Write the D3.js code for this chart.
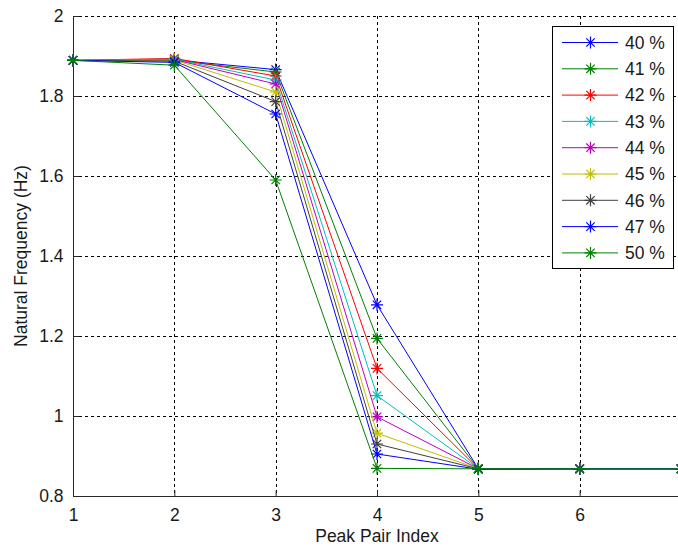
<!DOCTYPE html>
<html>
<head>
<meta charset="utf-8">
<script src="https://cdn.jsdelivr.net/npm/d3@7/dist/d3.min.js"></script>
<style>
  body { margin: 0; background: #fff; }
  svg { display: block; }
  text { font-family: "Liberation Sans", Arial, sans-serif; fill: #1a1a1a; }
</style>
</head>
<body>
<svg id="chart" width="678" height="548"></svg>
<script>
// Peak pair index (x) and natural frequency (Hz) per damping level
const peakIndex = [1, 2, 3, 4, 5, 6, 7];
const seriesLabels = ["40 %", "41 %", "42 %", "43 %", "44 %", "45 %", "46 %", "47 %", "50 %"];
const seriesColors = ["#0000ff", "#008000", "#ff0000", "#00bfbf", "#bf00bf", "#bfbf00", "#404040", "#0000ff", "#008000"];

const freq40 = [1.889, 1.890, 1.866, 1.278, 0.868, 0.868, 0.868];
const freq41 = [1.889, 1.889, 1.860, 1.194, 0.868, 0.868, 0.868];
const freq42 = [1.889, 1.894, 1.850, 1.119, 0.868, 0.868, 0.868];
const freq43 = [1.889, 1.892, 1.840, 1.051, 0.868, 0.868, 0.868];
const freq44 = [1.889, 1.891, 1.830, 0.998, 0.868, 0.868, 0.868];
const freq45 = [1.889, 1.890, 1.810, 0.957, 0.868, 0.868, 0.868];
const freq46 = [1.889, 1.887, 1.786, 0.930, 0.868, 0.868, 0.868];
const freq47 = [1.889, 1.884, 1.755, 0.905, 0.867, 0.868, 0.868];
const freq50 = [1.889, 1.877, 1.590, 0.869, 0.868, 0.868, 0.868];

const xTicks = [1, 2, 3, 4, 5, 6, 7];
const xTickLabels = ["1", "2", "3", "4", "5", "6", ""];
const yTicks = [0.8, 1.0, 1.2, 1.4, 1.6, 1.8, 2.0];
const yTickLabels = ["0.8", "1", "1.2", "1.4", "1.6", "1.8", "2"];

const allSeries = [freq40, freq41, freq42, freq43, freq44, freq45, freq46, freq47, freq50];

const svg = d3.select("#chart");
const plotLeft = 73, plotRight = 681, plotTop = 16, plotBottom = 496;

const x = d3.scaleLinear().domain([1, 7]).range([plotLeft, plotRight]);
const y = d3.scaleLinear().domain([0.8, 2.0]).range([plotBottom, plotTop]);

// dashed grid
const grid = svg.append("g").attr("stroke", "#000").attr("stroke-width", 1)
  .attr("stroke-dasharray", "3,3");
xTicks.forEach(t => {
  grid.append("line").attr("x1", Math.round(x(t)) + 0.5).attr("x2", Math.round(x(t)) + 0.5)
    .attr("y1", plotTop).attr("y2", plotBottom);
});
yTicks.forEach(t => {
  grid.append("line").attr("y1", Math.round(y(t)) + 0.5).attr("y2", Math.round(y(t)) + 0.5)
    .attr("x1", plotLeft).attr("x2", plotRight);
});

// axes (ticks pointing inward)
const xAxis = d3.axisBottom(x).tickValues(xTicks).tickSize(-6).tickPadding(12)
  .tickFormat((d, i) => xTickLabels[i]);
const yAxis = d3.axisLeft(y).tickValues(yTicks).tickSize(-6).tickPadding(10)
  .tickFormat((d, i) => yTickLabels[i]);

const gx = svg.append("g").attr("transform", `translate(0,${Math.round(plotBottom) + 0.5})`).call(xAxis);
const gy = svg.append("g").attr("transform", `translate(${Math.round(plotLeft) + 0.5},0)`).call(yAxis);
[gx, gy].forEach(g => {
  g.select(".domain").attr("stroke", "#262626").attr("stroke-width", 1);
  g.selectAll(".tick line").attr("stroke", "#262626");
  g.selectAll(".tick text").attr("font-size", 17.5).attr("fill", "#1a1a1a")
    .attr("font-family", "'Liberation Sans', Arial, sans-serif");
});
gy.select(".domain").attr("d", `M0,${plotTop}V${plotBottom}`);
gx.select(".domain").attr("d", `M${plotLeft},0H${plotRight}`);

// series lines and asterisk markers
const line = d3.line().x((d, i) => x(peakIndex[i])).y(d => y(d));
const star = "M-6,0H6M0,-6V6M-4.2,-4.2L4.2,4.2M-4.2,4.2L4.2,-4.2";

const plot = svg.append("g");
allSeries.forEach((vals, si) => {
  plot.append("path").datum(vals).attr("d", line)
    .attr("fill", "none").attr("stroke", seriesColors[si]).attr("stroke-width", 1);
  plot.selectAll(null).data(vals).enter().append("path")
    .attr("d", star)
    .attr("transform", (d, i) => `translate(${x(peakIndex[i])},${y(d)})`)
    .attr("stroke", seriesColors[si]).attr("stroke-width", 1.2).attr("fill", "none");
});

// axis labels
svg.append("text").attr("x", (plotLeft + plotRight) / 2).attr("y", 542)
  .attr("text-anchor", "middle").attr("font-size", 17.5).text("Peak Pair Index");
svg.append("text").attr("transform", `translate(27,${(plotTop + plotBottom) / 2}) rotate(-90)`)
  .attr("text-anchor", "middle").attr("font-size", 17.5).text("Natural Frequency (Hz)");

// legend
const lg = svg.append("g");
lg.append("rect").attr("x", 552.5).attr("y", 26.5).attr("width", 121).attr("height", 242)
  .attr("fill", "#fff").attr("stroke", "#000").attr("stroke-width", 1);
seriesLabels.forEach((lab, i) => {
  const cy = 42.5 + i * 26.3;
  lg.append("line").attr("x1", 562).attr("x2", 618).attr("y1", cy).attr("y2", cy)
    .attr("stroke", seriesColors[i]).attr("stroke-width", 1);
  lg.append("path").attr("d", star).attr("transform", `translate(590.5,${cy})`)
    .attr("stroke", seriesColors[i]).attr("stroke-width", 1.2).attr("fill", "none");
  lg.append("text").attr("x", 625).attr("y", cy + 6.3).attr("font-size", 17.5).text(lab);
});
</script>
</body>
</html>
